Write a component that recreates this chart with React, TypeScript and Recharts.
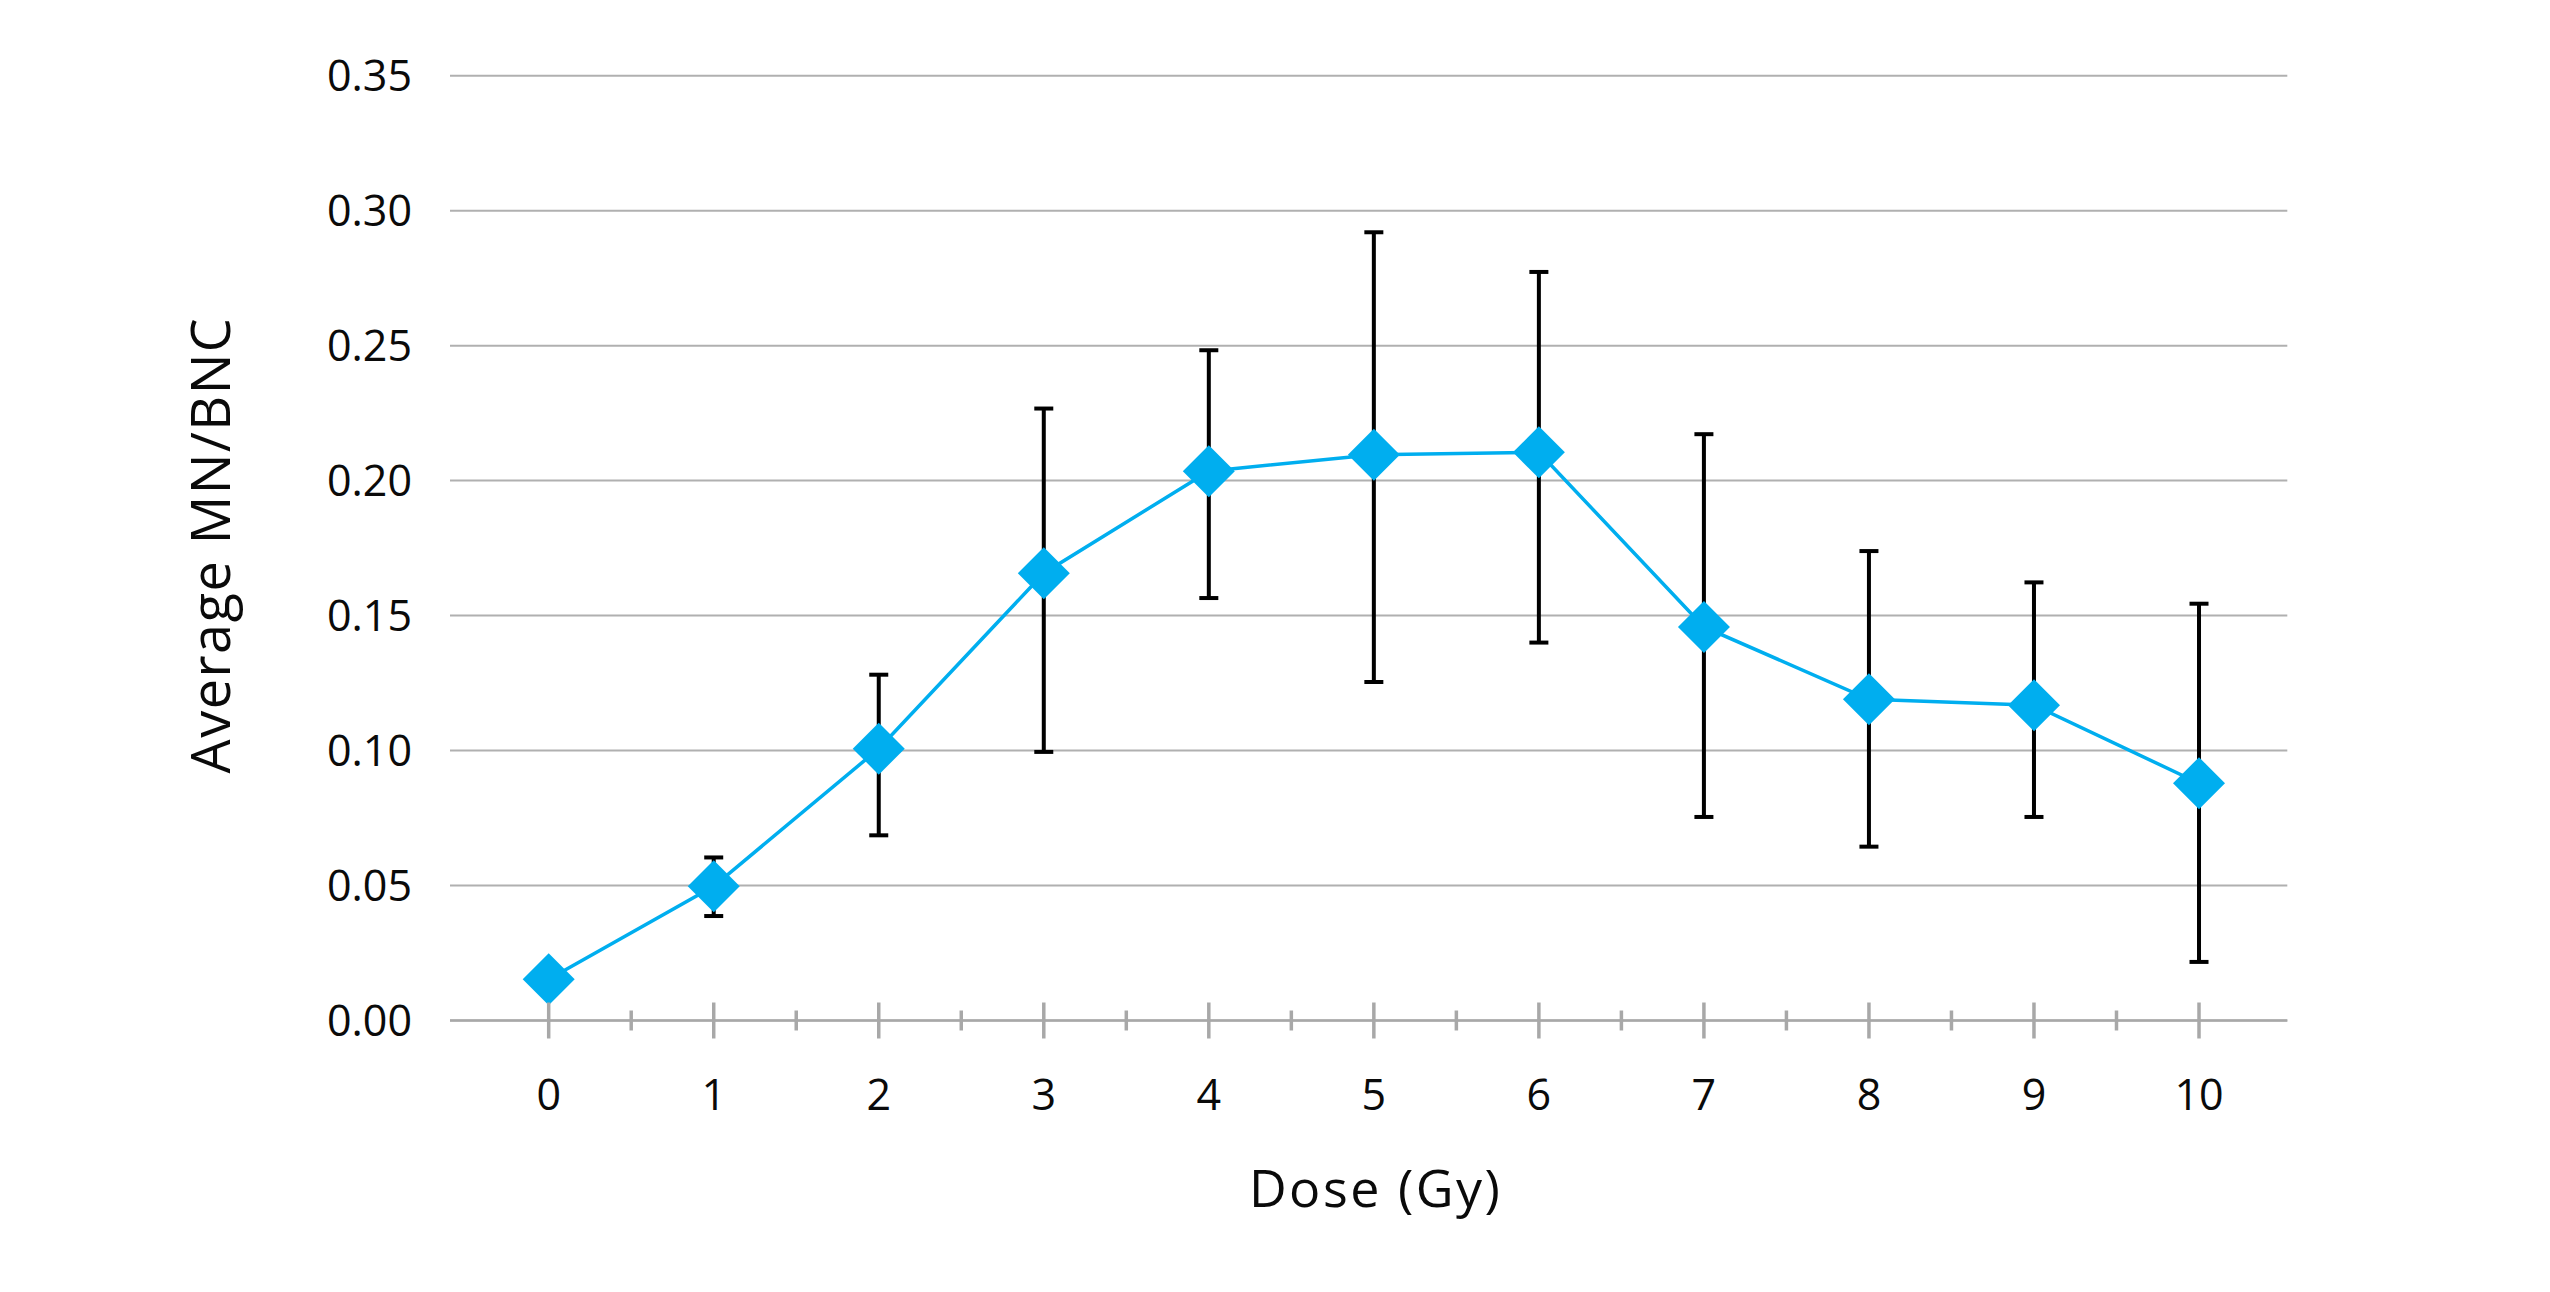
import { LineChart, Line, XAxis, YAxis, CartesianGrid, ErrorBar } from "recharts"

// values
const doses = [0, 1, 2, 3, 4, 5, 6, 7, 8, 9, 10]
const avgMnBnc = [0.0153, 0.0497, 0.1007, 0.1657, 0.2035, 0.2096, 0.2105, 0.1458, 0.119, 0.1168, 0.0879]
const lowerBound = [0.0153, 0.0387, 0.0686, 0.0995, 0.1565, 0.1254, 0.14, 0.0754, 0.0644, 0.0754, 0.0217]
const upperBound = [0.0153, 0.0604, 0.1281, 0.2267, 0.2483, 0.292, 0.2773, 0.2172, 0.1739, 0.1623, 0.1544]

const yTicks = [0, 0.05, 0.1, 0.15, 0.2, 0.25, 0.3, 0.35]
const xTicks = [0, 0.5, 1, 1.5, 2, 2.5, 3, 3.5, 4, 4.5, 5, 5.5, 6, 6.5, 7, 7.5, 8, 8.5, 9, 9.5, 10]

const xTitle = "Dose (Gy)"
const yTitle = "Average MN/BNC"

const data = doses.map((dose, i) => ({
  dose,
  mean: avgMnBnc[i],
  err: [avgMnBnc[i] - lowerBound[i], upperBound[i] - avgMnBnc[i]],
}))

const FONT = "'Open Sans', sans-serif"
const BLUE = "#00AEEF"
const GRID = "#b0b0b0"
const TICK = "#a8a8a8"
const INK = "#0a0a0a"

function Diamond(props: any) {
  const { cx, cy, index } = props
  if (cx == null || cy == null) return null
  const r = 26
  return (
    <polygon
      key={`d-${index}`}
      points={`${cx},${cy - r} ${cx + r},${cy} ${cx},${cy + r} ${cx - r},${cy}`}
      fill={BLUE}
    />
  )
}

function DoseTick(props: any) {
  const { x, y, payload } = props
  const v = payload.value
  const major = Number.isInteger(v)
  const len = major ? 18 : 10
  return (
    <g>
      <line x1={x} x2={x} y1={y - len} y2={y + len} stroke={TICK} strokeWidth={3.5} />
      {major && (
        <text x={x} y={y + 89.5} textAnchor="middle" fontFamily={FONT} fontSize={43} fill={INK}>
          {v}
        </text>
      )}
    </g>
  )
}

function XTitle(props: any) {
  const vb = props.viewBox || { x: 442, y: 1012.5, width: 1837.3 }
  return (
    <text
      x={vb.x + vb.width / 2 + 7}
      y={vb.y + 186.5}
      textAnchor="middle"
      fontFamily={FONT}
      fontSize={52}
      letterSpacing={2.5}
      fill={INK}
    >
      {xTitle}
    </text>
  )
}

function YTitle() {
  return (
    <text
      x={222}
      y={537}
      transform="rotate(-90 222 537)"
      textAnchor="middle"
      fontFamily={FONT}
      fontSize={54}
      letterSpacing={1.5}
      fill={INK}
    >
      {yTitle}
    </text>
  )
}

export default function App() {
  return (
    <div style={{ width: 2534, height: 1276, background: "#fff" }}>
      <LineChart
        width={2534}
        height={1276}
        data={data}
        margin={{ top: 67.7, right: 254.7, bottom: 113.5, left: 0 }}
      >
        <CartesianGrid vertical={false} stroke={GRID} strokeWidth={2} />
        <XAxis
          dataKey="dose"
          type="number"
          domain={[-0.598, 10.535]}
          ticks={xTicks}
          interval={0}
          allowDataOverflow
          height={150}
          axisLine={{ stroke: TICK, strokeWidth: 2.5 }}
          tickLine={false}
          tickSize={0}
          tickMargin={0}
          tick={<DoseTick />}
          label={<XTitle />}
        />
        <YAxis
          type="number"
          domain={[0, 0.35]}
          ticks={yTicks}
          interval={0}
          width={442}
          axisLine={false}
          tickLine={false}
          tickSize={0}
          tickMargin={38}
          tickFormatter={(v: number) => v.toFixed(2)}
          tick={{ fontFamily: FONT, fontSize: 43, fill: INK }}
          label={<YTitle />}
        />
        <Line
          type="linear"
          dataKey="mean"
          stroke={BLUE}
          strokeWidth={3.5}
          dot={<Diamond />}
          activeDot={false}
          isAnimationActive={false}
        >
          <ErrorBar
            dataKey="err"
            direction="y"
            width={9.5}
            stroke="#000"
            strokeWidth={4}
            isAnimationActive={false}
          />
        </Line>
      </LineChart>
    </div>
  )
}
